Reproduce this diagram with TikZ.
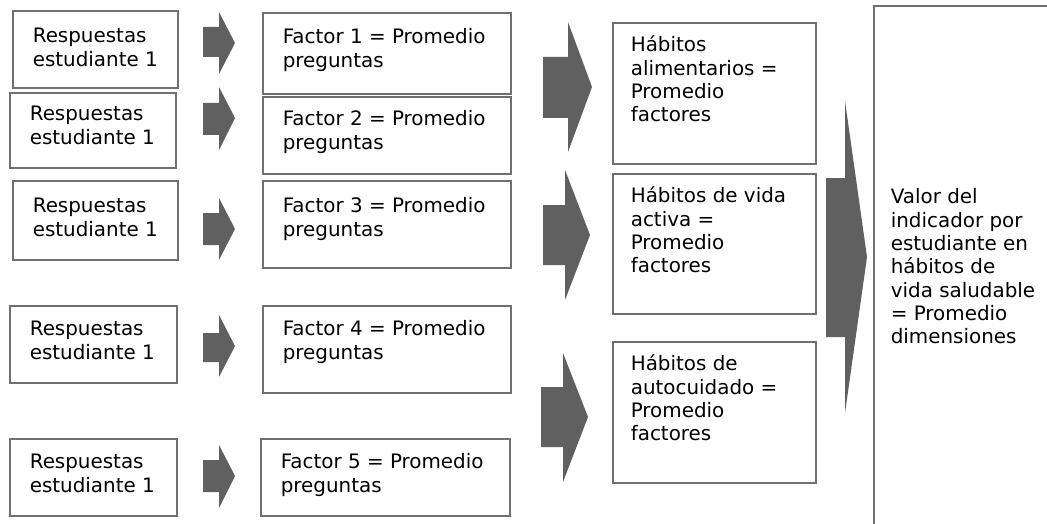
\documentclass[tikz,border=0pt]{standalone}
\usepackage{fontspec}
\setmainfont{DejaVu Sans}
\definecolor{boxline}{RGB}{112,112,112}
\definecolor{arrowfill}{RGB}{96,96,96}
% width, height, left pad, first baseline offset, text
\newcommand{\boxtxt}[5]{\parbox[t][#2][t]{#1}{\raggedright\leftskip=#3\fontsize{19.9}{23.3}\selectfont\rule{0pt}{#4}#5}}
% x0 (shaft left), xh (head start), xt (tip), head top, shaft top, shaft bottom, head bottom, tip y
\newcommand{\blockarr}[8]{\fill[arrowfill] (#1,#5)--(#2,#5)--(#2,#4)--(#3,#8)--(#2,#7)--(#2,#6)--(#1,#6)--cycle;}
\tikzset{box/.style={draw=boxline, line width=1.6pt, inner sep=0pt, anchor=north west}}
\begin{document}
\begin{tikzpicture}[x=1pt,y=-1pt]
\useasboundingbox (0,0) rectangle (1047,524);
\fill[white] (0,0) rectangle (1047,524);
\clip (0,0) rectangle (1047,524);
% left boxes
\node[box] (r1) at (12,10)  {\boxtxt{165pt}{77pt}{20pt}{32pt}{Respuestas\\estudiante 1}};
\node[box] (r2) at (9,92)   {\boxtxt{166pt}{75pt}{20pt}{28pt}{Respuestas\\estudiante 1}};
\node[box] (r3) at (12,180) {\boxtxt{165pt}{79pt}{20pt}{32pt}{Respuestas\\estudiante 1}};
\node[box] (r4) at (9,305)  {\boxtxt{167pt}{77pt}{20pt}{30pt}{Respuestas\\estudiante 1}};
\node[box] (r5) at (9,438)  {\boxtxt{167pt}{77pt}{20pt}{30pt}{Respuestas\\estudiante 1}};
% factor boxes
\node[box] (f1) at (262,12)  {\boxtxt{248pt}{81pt}{20pt}{31pt}{Factor 1 = Promedio\\preguntas}};
\node[box] (f2) at (262,96)  {\boxtxt{248pt}{77pt}{20pt}{29pt}{Factor 2 = Promedio\\preguntas}};
\node[box] (f3) at (262,180) {\boxtxt{248pt}{87pt}{20pt}{32pt}{Factor 3 = Promedio\\preguntas}};
\node[box] (f4) at (262,305) {\boxtxt{248pt}{87pt}{20pt}{30pt}{Factor 4 = Promedio\\preguntas}};
\node[box] (f5) at (260,438) {\boxtxt{249pt}{77pt}{20pt}{30pt}{Factor 5 = Promedio\\preguntas}};
% dimension boxes
\node[box] (h1) at (612,22)  {\boxtxt{203pt}{141pt}{18pt}{29pt}{Hábitos\\alimentarios =\\Promedio\\factores}};
\node[box] (h2) at (612,173) {\boxtxt{203pt}{140pt}{18pt}{29pt}{Hábitos de vida\\activa =\\Promedio\\factores}};
\node[box] (h3) at (612,341) {\boxtxt{203pt}{141pt}{18pt}{29pt}{Hábitos de\\autocuidado =\\Promedio\\factores}};
% final box (runs off the page)
\node[box] (v) at (873,5) {\boxtxt{200pt}{540pt}{17pt}{198pt}{Valor del\\indicador por\\estudiante en\\hábitos de\\vida saludable\\= Promedio\\dimensiones}};
% small arrows
\blockarr{203}{219}{235}{12}{27}{57}{74}{43}
\blockarr{203}{219}{235}{87}{103}{135}{150}{118}
\blockarr{203}{219}{235}{198}{213}{245}{260}{229}
\blockarr{203}{219}{235}{315}{333}{362}{377}{346}
\blockarr{203}{219}{235}{445}{460}{492}{508}{476}
% middle arrows
\blockarr{543}{568}{592}{22}{57}{118}{152}{87}
\blockarr{543}{565}{590}{170}{205}{265}{300}{235}
\blockarr{541}{563}{588}{353}{387}{447}{482}{417}
% tall arrow
\blockarr{826}{845}{867}{101}{178}{337}{413}{257}
\end{tikzpicture}
\end{document}
